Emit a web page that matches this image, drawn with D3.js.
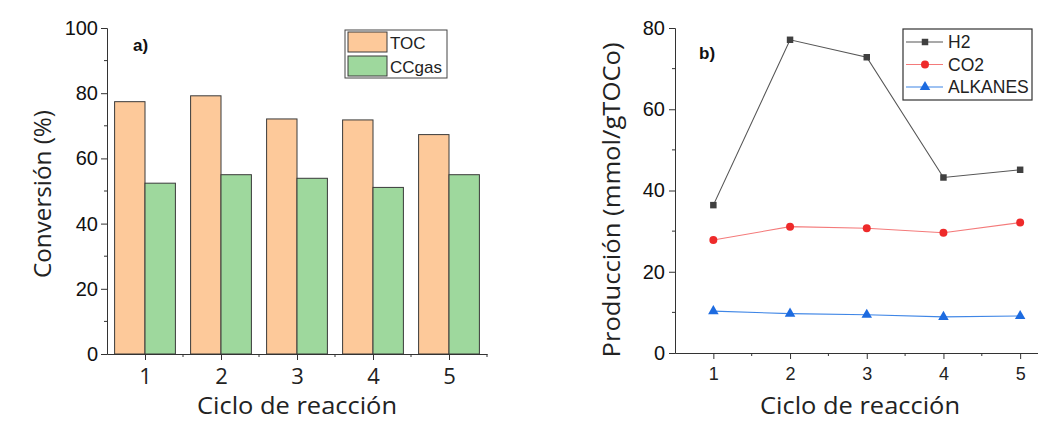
<!DOCTYPE html>
<html><head><meta charset="utf-8">
<script src="https://cdn.jsdelivr.net/npm/d3@7"></script>
<style>body{margin:0;background:#fff}svg{display:block}</style>
</head><body>
<svg id="c" width="1038" height="421"></svg>
<script>
const cycles = [1, 2, 3, 4, 5];
const tocValues = [77.4, 79.2, 72.1, 71.8, 67.3];
const ccgasValues = [52.4, 55.0, 53.9, 51.1, 55.0];
const h2Values = [36.4, 77.1, 72.8, 43.2, 45.1];
const co2Values = [27.8, 31.1, 30.7, 29.6, 32.1];
const alkanesValues = [10.3, 9.7, 9.4, 8.9, 9.1];
const leftYTicks = [0, 20, 40, 60, 80, 100];
const rightYTicks = [0, 20, 40, 60, 80];

const svg = d3.select("#c");
const AX = "#333";
const arial = "'Liberation Sans', Arial, sans-serif";
const cal = "'Open Sans', sans-serif";
const fmt = d3.format("d");

// ---------- Panel a ----------
const xa = d3.scaleLinear().domain([0.5, 5.5]).range([107, 487]);
const ya = d3.scaleLinear().domain([0, 100]).range([354, 28]);
const ga = svg.append("g");

const barW = 0.4;
ga.selectAll("rect.toc").data(cycles).enter().append("rect")
  .attr("x", d => xa(d - barW)).attr("width", d => xa(d) - xa(d - barW))
  .attr("y", (d, i) => ya(tocValues[i])).attr("height", (d, i) => ya(0) - ya(tocValues[i]))
  .attr("fill", "#fdc99a").attr("stroke", "#3a3a3a").attr("stroke-width", 1);
ga.selectAll("rect.cc").data(cycles).enter().append("rect")
  .attr("x", d => xa(d)).attr("width", d => xa(d + barW) - xa(d))
  .attr("y", (d, i) => ya(ccgasValues[i])).attr("height", (d, i) => ya(0) - ya(ccgasValues[i]))
  .attr("fill", "#9ed89d").attr("stroke", "#3a3a3a").attr("stroke-width", 1);

// y axis
const yAxA = ga.append("g").attr("transform", "translate(107,0)")
  .call(d3.axisLeft(ya).tickValues(leftYTicks).tickFormat(fmt).tickSize(6).tickPadding(3));
yAxA.selectAll("text").attr("font-family", arial).attr("font-size", 20).attr("fill", "#111");
yAxA.append("g").selectAll("line").data([10, 30, 50, 70, 90]).enter().append("line")
  .attr("x1", -3).attr("x2", 0).attr("y1", d => ya(d)).attr("y2", d => ya(d)).attr("stroke", AX);
// x axis
const xAxA = ga.append("g").attr("transform", "translate(0,354)")
  .call(d3.axisBottom(xa).tickValues(cycles).tickFormat(fmt).tickSize(6).tickPadding(8).tickSizeOuter(0));
xAxA.selectAll("text").attr("font-family", cal).attr("font-size", 22).attr("fill", "#222");
xAxA.append("g").selectAll("line").data([1.5, 2.5, 3.5, 4.5, 5.5]).enter().append("line")
  .attr("y1", 0).attr("y2", 3).attr("x1", d => xa(d)).attr("x2", d => xa(d)).attr("stroke", AX);
[yAxA, xAxA].forEach(a => { a.select(".domain").attr("stroke", AX); a.selectAll(".tick line").attr("stroke", AX); });

ga.append("text").attr("x", 133).attr("y", 51).text("a)")
  .attr("font-family", arial).attr("font-weight", "bold").attr("font-size", 17).attr("fill", "#111");
ga.append("text").attr("transform", "translate(51,194) rotate(-90)").attr("text-anchor", "middle")
  .attr("font-family", cal).attr("font-size", 24).attr("fill", "#222")
  .attr("textLength", 168).attr("lengthAdjust", "spacingAndGlyphs").text("Conversión (%)");
ga.append("text").attr("x", 297).attr("y", 414).attr("text-anchor", "middle")
  .attr("font-family", cal).attr("font-size", 24).attr("fill", "#222")
  .attr("textLength", 200).attr("lengthAdjust", "spacingAndGlyphs").text("Ciclo de reacción");

// legend a
const la = ga.append("g");
la.append("rect").attr("x", 345).attr("y", 30).attr("width", 102).attr("height", 48)
  .attr("fill", "#fff").attr("stroke", "#444").attr("stroke-width", 1);
[["TOC", "#fdc99a"], ["CCgas", "#9ed89d"]].forEach((e, i) => {
  la.append("rect").attr("x", 348).attr("y", 32 + i * 24).attr("width", 39).attr("height", 20)
    .attr("fill", e[1]).attr("stroke", "#3a3a3a");
  la.append("text").attr("x", 390).attr("y", 49 + i * 24).text(e[0])
    .attr("font-family", arial).attr("font-size", 17).attr("fill", "#222");
});

// ---------- Panel b ----------
const xb = d3.scaleLinear().domain([0.5, 5.5]).range([675, 1058.5]);
const yb = d3.scaleLinear().domain([0, 80]).range([353, 28]);
const gb = svg.append("g");

const yAxB = gb.append("g").attr("transform", "translate(675,0)")
  .call(d3.axisLeft(yb).tickValues(rightYTicks).tickFormat(fmt).tickSize(6).tickPadding(4));
yAxB.selectAll("text").attr("font-family", arial).attr("font-size", 20).attr("fill", "#111");
yAxB.append("g").selectAll("line").data([10, 30, 50, 70]).enter().append("line")
  .attr("x1", -3).attr("x2", 0).attr("y1", d => yb(d)).attr("y2", d => yb(d)).attr("stroke", AX);
const xAxB = gb.append("g").attr("transform", "translate(0,353)")
  .call(d3.axisBottom(xb).tickValues(cycles).tickFormat(fmt).tickSize(6).tickPadding(8).tickSizeOuter(0));
xAxB.selectAll("text").attr("font-family", arial).attr("font-size", 18).attr("fill", "#222");
xAxB.append("g").selectAll("line").data([1.5, 2.5, 3.5, 4.5]).enter().append("line")
  .attr("y1", 0).attr("y2", 3).attr("x1", d => xb(d)).attr("x2", d => xb(d)).attr("stroke", AX);
[yAxB, xAxB].forEach(a => { a.select(".domain").attr("stroke", AX); a.selectAll(".tick line").attr("stroke", AX); });

const series = [
  { name: "H2", vals: h2Values, line: "#555", mark: "#404040", shape: d3.symbolSquare, size: 42 },
  { name: "CO2", vals: co2Values, line: "#f47a7a", mark: "#ee2a2a", shape: d3.symbolCircle, size: 50 },
  { name: "ALKANES", vals: alkanesValues, line: "#3f86e6", mark: "#1d6be0", shape: d3.symbolTriangle, size: 48 }
];
series.forEach(s => {
  const line = d3.line().x((d, i) => xb(cycles[i])).y(d => yb(d));
  gb.append("path").attr("d", line(s.vals)).attr("fill", "none").attr("stroke", s.line).attr("stroke-width", 1.1);
  gb.selectAll(null).data(s.vals).enter().append("path")
    .attr("d", d3.symbol().type(s.shape).size(s.size))
    .attr("transform", (d, i) => `translate(${xb(cycles[i])},${yb(d)})`)
    .attr("fill", s.mark);
});

gb.append("text").attr("x", 699).attr("y", 59).text("b)")
  .attr("font-family", arial).attr("font-weight", "bold").attr("font-size", 17).attr("fill", "#111");
gb.append("text").attr("transform", "translate(620,200) rotate(-90)").attr("text-anchor", "middle")
  .attr("font-family", cal).attr("font-size", 24).attr("fill", "#222")
  .attr("textLength", 315).attr("lengthAdjust", "spacingAndGlyphs").text("Producción (mmol/gTOCo)");
gb.append("text").attr("x", 860).attr("y", 414).attr("text-anchor", "middle")
  .attr("font-family", cal).attr("font-size", 24).attr("fill", "#222")
  .attr("textLength", 200).attr("lengthAdjust", "spacingAndGlyphs").text("Ciclo de reacción");

// legend b
const lb = gb.append("g");
lb.append("rect").attr("x", 903).attr("y", 29).attr("width", 129).attr("height", 71)
  .attr("fill", "#fff").attr("stroke", "#333").attr("stroke-width", 1.2);
series.forEach((s, i) => {
  const yy = 42 + i * 22.5;
  lb.append("line").attr("x1", 906).attr("x2", 943).attr("y1", yy).attr("y2", yy)
    .attr("stroke", s.line).attr("stroke-width", 1.1);
  lb.append("path").attr("d", d3.symbol().type(s.shape).size(s.size))
    .attr("transform", `translate(925,${yy})`).attr("fill", s.mark);
  lb.append("text").attr("x", 948).attr("y", yy + 6).text(s.name)
    .attr("font-family", arial).attr("font-size", 17.5).attr("fill", "#222");
});
</script>
</body></html>
